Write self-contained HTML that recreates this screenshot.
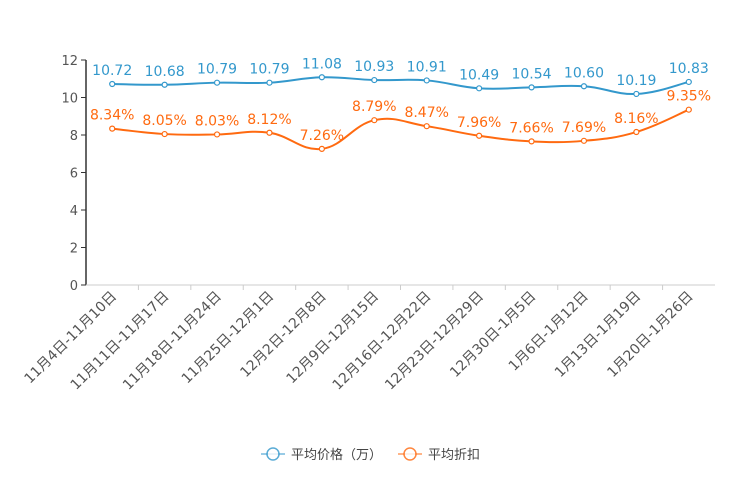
<!DOCTYPE html>
<html><head><meta charset="utf-8"><style>
body{margin:0;background:#fff;}
svg text{font-family:"DejaVu Sans","Noto Sans CJK SC",sans-serif;}
</style></head><body>
<svg id="chart" width="744" height="496" xmlns="http://www.w3.org/2000/svg"></svg>
<script>
const categories=["11月4日-11月10日","11月11日-11月17日","11月18日-11月24日","11月25日-12月1日","12月2日-12月8日","12月9日-12月15日","12月16日-12月22日","12月23日-12月29日","12月30日-1月5日","1月6日-1月12日","1月13日-1月19日","1月20日-1月26日"];
const priceValues=[10.72,10.68,10.79,10.79,11.08,10.93,10.91,10.49,10.54,10.60,10.19,10.83];
const discountValues=[8.34,8.05,8.03,8.12,7.26,8.79,8.47,7.96,7.66,7.69,8.16,9.35];
const yTicks=[0,2,4,6,8,10,12];
const NS="http://www.w3.org/2000/svg";
const svg=document.getElementById('chart');
const L=86,R=715,T=60,B=285,yMax=12;
const bw=(R-L)/categories.length;
const x=i=>L+bw*(i+0.5);
const y=v=>B-(v/yMax)*(B-T);
function mk(tag,a,parent){const e=document.createElementNS(NS,tag);for(const k in a)e.setAttribute(k,a[k]);(parent||svg).appendChild(e);return e;}
const ya=mk('g',{});


mk('line',{x1:L,y1:T,x2:L,y2:B,stroke:'#333','stroke-width':1.5},ya);
yTicks.forEach(t=>{
  mk('line',{x1:L-5,y1:y(t),x2:L,y2:y(t),stroke:'#333'},ya);
  const tx=mk('text',{x:L-8,y:y(t)+5,'text-anchor':'end','font-size':13,fill:'#555'},ya);
  tx.textContent=t;
  
  
});
const xa=mk('g',{});


mk('line',{x1:L,y1:B,x2:R,y2:B,stroke:'#ccc'},xa);
categories.forEach((c,i)=>{
  if(i>0) mk('line',{x1:L+bw*i,y1:B,x2:L+bw*i,y2:B+5,stroke:'#ccc'},xa);
  const tx=mk('text',{x:x(i)+5,y:B+12,'text-anchor':'end','font-size':14,fill:'#555',transform:`rotate(-45 ${x(i)+5} ${B+12})`},xa);
  tx.textContent=c;
  
  
});
function smooth(pts){
  let d=`M${pts[0][0]},${pts[0][1]}`;
  for(let i=0;i<pts.length-1;i++){
    const p0=pts[Math.max(0,i-1)],p1=pts[i],p2=pts[i+1],p3=pts[Math.min(pts.length-1,i+2)];
    const t=0.2;
    d+=` C${p1[0]+(p2[0]-p0[0])*t},${p1[1]+(p2[1]-p0[1])*t} ${p2[0]-(p3[0]-p1[0])*t},${p2[1]-(p3[1]-p1[1])*t} ${p2[0]},${p2[1]}`;
  }
  return d;
}
function series(vals,color,name,fmt){
  const g=mk('g',{});
  
  
  const pts=vals.map((v,i)=>[x(i),y(v)]);
  mk('path',{d:smooth(pts),fill:'none',stroke:color,'stroke-width':2},g);
  vals.forEach((v,i)=>{
    const c=mk('circle',{cx:x(i),cy:y(v),r:2.5,fill:'#fff',stroke:color,'stroke-width':1.2},g);
    
    
    const t=mk('text',{x:x(i),y:y(v)-9,'text-anchor':'middle','font-size':14,fill:color},g);
    t.textContent=fmt(v);
    
    
  });
}
series(priceValues,'#3398cc','series-avg-price',v=>v.toFixed(2));
series(discountValues,'#ff6a10','series-avg-discount',v=>v.toFixed(2)+'%');
function legend(lx,color,label,name){
  const g=mk('g',{});
  
  
  mk('line',{x1:lx,y1:454,x2:lx+24,y2:454,stroke:color,'stroke-width':1.2,opacity:0.8},g);
  mk('circle',{cx:lx+12,cy:454,r:6,fill:'#fff',stroke:color,'stroke-width':1.5,opacity:0.8},g);
  const t=mk('text',{x:lx+30,y:459,'font-size':13,fill:'#444'},g);
  t.textContent=label;
}
legend(261,'#3398cc','平均价格（万）','legend-avg-price');
legend(398,'#ff6a10','平均折扣','legend-avg-discount');
</script>
</body></html>
